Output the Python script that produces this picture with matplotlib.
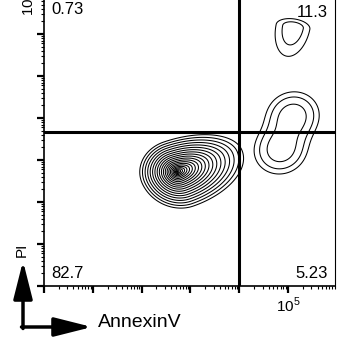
import numpy as np
import matplotlib.pyplot as plt
from matplotlib.ticker import LogLocator, NullFormatter, FixedLocator, FixedFormatter

plt.rcParams['font.family'] = ['Liberation Sans', 'DejaVu Sans']
plt.rcParams['mathtext.fontset'] = 'custom'
plt.rcParams['mathtext.rm'] = 'Liberation Sans'

# quadrant frequencies (%): upper-left, upper-right, lower-right, lower-left
quad_values = [0.73, 11.3, 5.23, 82.7]

annexin_gate = 1.0e4
pi_gate = 4.6e3

# axis ranges in decades
x_range = [0.0, 5.96]
y_range = [0.0, 7.0]

# cell populations on log10 axes: live, two lobes of late apoptotic, PI-high
pop_group = [0, 1, 1, 2]
pop_x = [2.73, 5.10, 4.84, 5.10]
pop_y = [2.72, 4.05, 3.24, 6.17]
pop_tilt = [22, -17, -17, -10]
pop_su = [(0.77, 1.42), (0.44, 0.44), (0.44, 0.44), (0.35, 0.35)]
pop_sv = [(0.88, 0.76), (0.48, 0.48), (0.48, 0.48), (0.71, 0.19)]
pop_peak = [2.0, -7.2, -7.2, -7.7]
pop_depth = [10.5, 0.9, 0.9, 0.8]
pop_shape = [0.65, 2, 2, 2]

# log-density contour levels
levels = np.arange(-8.5, 2.0, 0.5)

lx = np.linspace(x_range[0], x_range[1], 700)
ly = np.linspace(y_range[0], y_range[1], 800)
LX, LY = np.meshgrid(lx, ly)
groups = {}
for g, cx, cy, t, su, sv, pk, dp, sh in zip(pop_group, pop_x, pop_y, pop_tilt, pop_su,
                                            pop_sv, pop_peak, pop_depth, pop_shape):
    a = np.deg2rad(t)
    dx, dy = LX - cx, LY - cy
    u = dx * np.cos(a) + dy * np.sin(a)
    v = -dx * np.sin(a) + dy * np.cos(a)
    u = np.where(u < 0, u / su[0], u / su[1])
    v = np.where(v < 0, v / sv[0], v / sv[1])
    rho = np.hypot(u, v)
    groups[g] = groups.get(g, 0) + np.exp(pk - dp * rho ** sh)
logdens = np.max([np.log(d) for d in groups.values()], axis=0)

fig = plt.figure(figsize=(3.46, 3.38), dpi=100)
ax = fig.add_axes([44 / 346, 52 / 338, 291 / 346, 294 / 338])

ax.contour(10 ** LX, 10 ** LY, logdens, levels=levels,
           colors='black', linewidths=0.75, linestyles='solid')

ax.set_xscale('log')
ax.set_yscale('log')
ax.set_xlim(10 ** x_range[0], 10 ** x_range[1])
ax.set_ylim(10 ** y_range[0], 10 ** y_range[1])

ax.axvline(annexin_gate, color='black', lw=2.2)
ax.axhline(pi_gate, color='black', lw=2.2)

for axis in (ax.xaxis, ax.yaxis):
    axis.set_minor_locator(LogLocator(base=10, subs=np.arange(2, 10), numticks=20))
    axis.set_minor_formatter(NullFormatter())
ax.xaxis.set_major_locator(FixedLocator([10.0 ** k for k in range(6)]))
ax.xaxis.set_major_formatter(FixedFormatter(['', '', '', '', '', r'$10^5$']))
ax.yaxis.set_major_locator(FixedLocator([10.0 ** k for k in range(8)]))
ax.yaxis.set_major_formatter(FixedFormatter([''] * 7 + [r'$10^7$']))
ax.tick_params(which='major', direction='out', length=5, width=1.6, labelsize=11)
ax.tick_params(axis='x', which='major', pad=2)
ax.tick_params(axis='y', which='major', pad=0)
ax.tick_params(which='minor', direction='out', length=2.5, width=0.8)
for lab in ax.get_yticklabels():
    lab.set_rotation(90)
    lab.set_va('top')

for side in ('left', 'bottom'):
    ax.spines[side].set_linewidth(1.2)
ax.spines['right'].set_linewidth(0.8)

qfont = dict(fontsize=12, transform=ax.transAxes)
ax.text(0.024, 0.965, f'{quad_values[0]}', ha='left', va='top', **qfont)
ax.text(0.976, 0.955, f'{quad_values[1]}', ha='right', va='top', **qfont)
ax.text(0.976, 0.028, f'{quad_values[2]}', ha='right', va='baseline', **qfont)
ax.text(0.024, 0.028, f'{quad_values[3]}', ha='left', va='baseline', **qfont)

# axis direction arrows below the plot
arrow = dict(arrowstyle='-|>,head_length=2.3,head_width=0.58', color='black',
             lw=2.5, shrinkA=0, shrinkB=0, mutation_scale=10)
ax.annotate('', xy=(23, 77), xytext=(23, 9.5), xycoords='figure pixels',
            textcoords='figure pixels', arrowprops=arrow, annotation_clip=False)
ax.annotate('', xy=(92, 11), xytext=(21.5, 11), xycoords='figure pixels',
            textcoords='figure pixels', arrowprops=arrow, annotation_clip=False)
fig.text(98 / 346, 11 / 338, 'AnnexinV', fontsize=14, ha='left', va='baseline')
fig.text(21.5 / 346, 88.5 / 338, 'PI', fontsize=11, rotation=90, ha='center', va='center')

fig.savefig('out.png', dpi=100)
